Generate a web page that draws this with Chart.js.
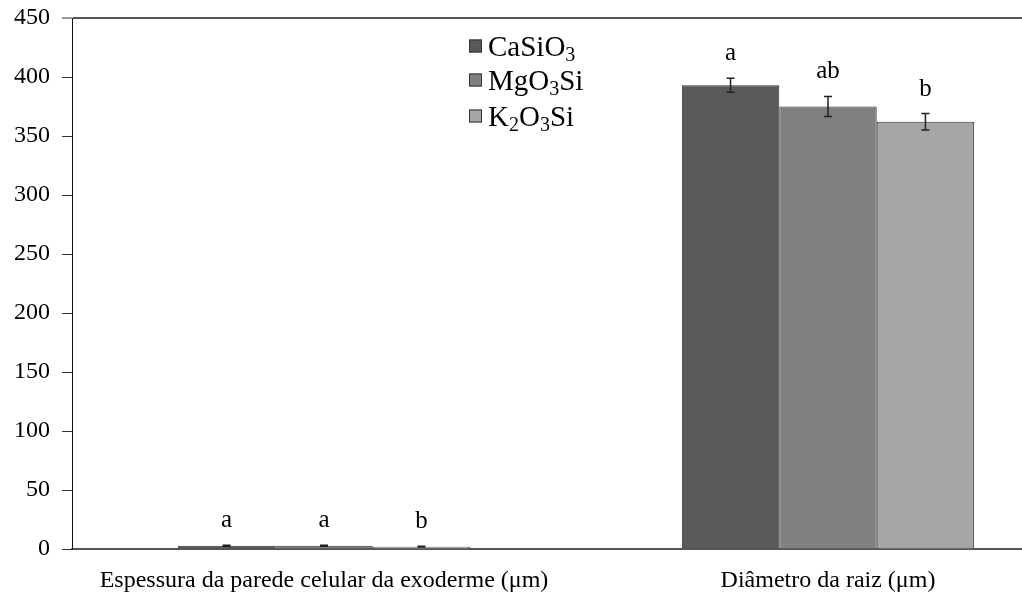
<!DOCTYPE html>
<html>
<head>
<meta charset="utf-8">
<script src="https://cdn.jsdelivr.net/npm/chart.js@4.4.1/dist/chart.umd.min.js"></script>
<style>
  html, body { margin: 0; padding: 0; background: #fff; overflow: hidden; }
  #wrap { width: 1022px; height: 595px; overflow: hidden; }
</style>
</head>
<body>
<div id="wrap"><canvas id="barChart" width="1090" height="595"></canvas></div>
<script>
const categories = ['Espessura da parede celular da exoderme (μm)', 'Diâmetro da raiz (μm)'];
const seriesNames = ['CaSiO₃', 'MgO₃Si', 'K₂O₃Si'];
const caSiO3 = [2.8, 393];
const mgO3Si = [2.7, 375];
const k2O3Si = [2.0, 362];
const caSiO3Err = [0.4, 6];
const mgO3SiErr = [0.4, 8.5];
const k2O3SiErr = [0.3, 7];
const caSiO3Letters = ['a', 'a'];
const mgO3SiLetters = ['a', 'ab'];
const k2O3SiLetters = ['b', 'b'];
const yTicks = [0, 50, 100, 150, 200, 250, 300, 350, 400, 450];

const serif = "'Times New Roman', 'Liberation Serif', serif";
const colors = ['#595959', '#808080', '#a6a6a6'];
const errors = [caSiO3Err, mgO3SiErr, k2O3SiErr];
const letters = [caSiO3Letters, mgO3SiLetters, k2O3SiLetters];

// error bars, significance letters and the legend box
const extras = {
  id: 'extras',
  afterDatasetsDraw(chart) {
    const ctx = chart.ctx;
    const y = chart.scales.y;
    ctx.save();
    chart.data.datasets.forEach((ds, i) => {
      const meta = chart.getDatasetMeta(i);
      meta.data.forEach((bar, j) => {
        const v = ds.data[j];
        const e = errors[i][j];
        const top = y.getPixelForValue(v + e);
        const bot = y.getPixelForValue(v - e);
        ctx.strokeStyle = '#222';
        ctx.lineWidth = 1.5;
        ctx.beginPath();
        ctx.moveTo(bar.x, top); ctx.lineTo(bar.x, bot);
        ctx.moveTo(bar.x - 4, top); ctx.lineTo(bar.x + 4, top);
        ctx.moveTo(bar.x - 4, bot); ctx.lineTo(bar.x + 4, bot);
        ctx.stroke();
        ctx.fillStyle = '#000';
        ctx.font = '25px ' + serif;
        ctx.textAlign = 'center';
        ctx.textBaseline = 'alphabetic';
        ctx.fillText(letters[i][j], bar.x, top - 18);
      });
    });

    // legend
    const lx = 469, ly = [46, 80, 116];
    chart.data.datasets.forEach((ds, i) => {
      ctx.fillStyle = ds.backgroundColor;
      ctx.fillRect(lx, ly[i] - 6.5, 13, 13);
      ctx.strokeStyle = '#333';
      ctx.lineWidth = 1;
      ctx.strokeRect(lx + 0.5, ly[i] - 6, 12, 12);
      let x = lx + 19;
      ctx.fillStyle = '#000';
      ctx.textAlign = 'left';
      ctx.textBaseline = 'alphabetic';
      for (const ch of ds.label) {
        const code = ch.charCodeAt(0);
        if (code >= 0x2080 && code <= 0x2089) {
          ctx.font = '20px ' + serif;
          const d = String(code - 0x2080);
          ctx.fillText(d, x, ly[i] + 15);
          x += ctx.measureText(d).width;
        } else {
          ctx.font = '29px ' + serif;
          ctx.fillText(ch, x, ly[i] + 10);
          x += ctx.measureText(ch).width;
        }
      }
    });
    ctx.restore();
  }
};

new Chart(document.getElementById('barChart'), {
  type: 'bar',
  data: {
    labels: categories,
    datasets: [
      { label: seriesNames[0], data: caSiO3, backgroundColor: colors[0] },
      { label: seriesNames[1], data: mgO3Si, backgroundColor: colors[1] },
      { label: seriesNames[2], data: k2O3Si, backgroundColor: colors[2] }
    ].map(d => Object.assign(d, { borderColor: '#333', borderWidth: 1 }))
  },
  options: {
    responsive: false,
    animation: false,
    devicePixelRatio: 1,
    layout: { padding: { left: 0, right: 10, top: 18, bottom: 0 } },
    datasets: { bar: { categoryPercentage: 0.58, barPercentage: 1 } },
    plugins: {
      legend: { display: false },
      tooltip: { enabled: false }
    },
    scales: {
      x: {
        grid: { drawOnChartArea: false, drawTicks: false, color: 'transparent' },
        border: { color: '#555', width: 2 },
        ticks: { color: '#000', font: { family: serif, size: 24 }, padding: 17, maxRotation: 0, autoSkip: false },
        afterFit(scale) { scale.height = 46; }
      },
      y: {
        min: 0,
        max: 450,
        afterBuildTicks(scale) { scale.ticks = yTicks.map(v => ({ value: v })); },
        grid: {
          color: c => (c.tick && c.tick.value === 450 ? '#555' : 'transparent'),
          lineWidth: c => (c.tick && c.tick.value === 450 ? 2 : 1),
          tickColor: '#333',
          tickLength: 10,
          tickWidth: 1
        },
        border: { color: '#111', width: 1 },
        ticks: { color: '#000', font: { family: serif, size: 24 }, padding: 12 },
        afterFit(scale) {
          scale.width = 72;
          scale.paddingTop = 0;
          scale.paddingBottom = 0;
        }
      }
    }
  },
  plugins: [extras]
});
</script>
</body>
</html>
